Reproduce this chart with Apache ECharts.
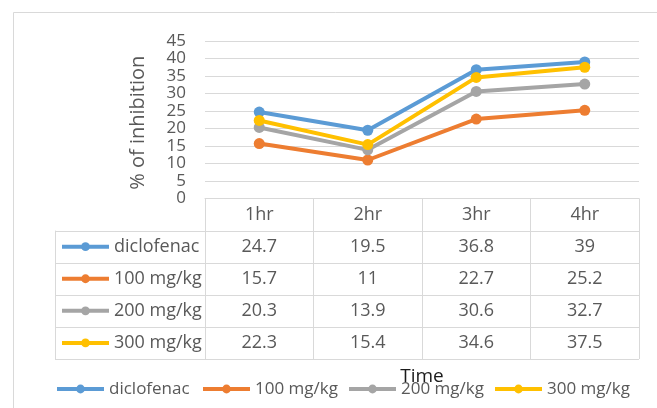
<!DOCTYPE html>
<html>
<head>
<meta charset="utf-8">
<script src="https://cdn.jsdelivr.net/npm/echarts@6/dist/echarts.min.js"></script>
<style>
  html, body { margin: 0; padding: 0; background: #fff; }
  #chart { width: 657px; height: 408px; }
</style>
</head>
<body>
<div id="chart"></div>
<script>
// Time points (x categories)
const categories = ['1hr', '2hr', '3hr', '4hr'];
// Treatment groups
const seriesNames = ['diclofenac', '100 mg/kg', '200 mg/kg', '300 mg/kg'];
// % of inhibition per group
const diclofenac = [24.7, 19.5, 36.8, 39];
const dose100 = [15.7, 11, 22.7, 25.2];
const dose200 = [20.3, 13.9, 30.6, 32.7];
const dose300 = [22.3, 15.4, 34.6, 37.5];
// Value axis range
const yMin = 0, yMax = 45, yStep = 5;

const groupValues = [diclofenac, dose100, dose200, dose300];
const colors = ['#5B9BD5', '#ED7D31', '#A5A5A5', '#FFC000'];

const FONT = '"Open Sans", Lato, sans-serif';
const TEXT = '#595959';
const RULE = '#D9D9D9';
const GRID = { left: 205, top: 41, width: 434, height: 157.5 };
const ROW_H = 32.1;
const TABLE_LEFT = 55;
const TABLE_FONT = 18;
const LEGEND_FONT = 17;
const LEGEND_LEFTS = [55, 201, 347, 493];
const LEGEND_Y = 389;

const gridBottom = GRID.top + GRID.height;
const tableRight = GRID.left + GRID.width;

const chart = echarts.init(document.getElementById('chart'), null, { renderer: 'canvas' });

const cellLabel = {
  fontFamily: FONT, fontSize: TABLE_FONT, color: TEXT, lineHeight: 20,
  margin: ROW_H / 2 - 10
};

// Main category axis (header row of the data table) plus one axis per table row
const xAxes = [{
  type: 'category',
  data: categories,
  boundaryGap: true,
  name: 'Time',
  nameLocation: 'middle',
  nameGap: 169,
  nameTextStyle: { fontFamily: FONT, fontSize: 19, color: '#1a1a1a' },
  axisLine: { show: true, lineStyle: { color: RULE, width: 1 } },
  axisTick: { show: true, alignWithLabel: false, length: ROW_H * 5, lineStyle: { color: RULE, width: 1 } },
  axisLabel: Object.assign({}, cellLabel),
  splitLine: { show: false }
}];
groupValues.forEach((vals, k) => {
  xAxes.push({
    type: 'category',
    data: categories,
    position: 'bottom',
    offset: ROW_H * (k + 1),
    axisLine: { show: false },
    axisTick: { show: false },
    splitLine: { show: false },
    axisLabel: Object.assign({}, cellLabel, {
      formatter: (v, idx) => String(vals[idx])
    })
  });
});

const legendBase = {
  selectedMode: false,
  itemWidth: 47,
  itemHeight: 11,
  itemGap: 0,
  padding: 0,
  lineStyle: { width: 4 }
};
const legends = [];
seriesNames.forEach((n, i) => {
  legends.push(Object.assign({}, legendBase, {
    data: [n],
    left: TABLE_LEFT + 5,
    top: gridBottom + ROW_H * (i + 1) + ROW_H / 2 - 10,
    textStyle: { fontFamily: FONT, fontSize: TABLE_FONT, color: TEXT, lineHeight: 20 }
  }));
});
seriesNames.forEach((n, i) => {
  legends.push(Object.assign({}, legendBase, {
    data: [n],
    left: LEGEND_LEFTS[i],
    top: LEGEND_Y - 10,
    textStyle: { fontFamily: FONT, fontSize: LEGEND_FONT, color: TEXT, lineHeight: 20 }
  }));
});

// Chart frame and data table borders
const graphics = [
  { type: 'rect', shape: { x: 13.5, y: 12.5, width: 700, height: 500 }, style: { fill: null, stroke: RULE, lineWidth: 1 }, silent: true, z: -1 }
];
for (let k = 1; k <= 5; k++) {
  const y = Math.round(gridBottom + ROW_H * k) + 0.5;
  graphics.push({ type: 'line', shape: { x1: TABLE_LEFT, y1: y, x2: tableRight, y2: y }, style: { stroke: RULE, lineWidth: 1 }, silent: true });
}
graphics.push({
  type: 'line',
  shape: { x1: TABLE_LEFT + 0.5, y1: gridBottom + ROW_H, x2: TABLE_LEFT + 0.5, y2: gridBottom + ROW_H * 5 },
  style: { stroke: RULE, lineWidth: 1 }, silent: true
});

chart.setOption({
  backgroundColor: '#fff',
  animation: false,
  textStyle: { fontFamily: FONT },
  grid: { left: GRID.left, top: GRID.top, width: GRID.width, height: GRID.height, containLabel: false },
  xAxis: xAxes,
  yAxis: {
    type: 'value',
    min: yMin, max: yMax, interval: yStep,
    name: '% of inhibition',
    nameLocation: 'middle',
    nameGap: 57,
    nameTextStyle: { fontFamily: FONT, fontSize: 20, color: TEXT, padding: [0, 6, 0, 0] },
    axisLine: { show: false },
    axisTick: { show: false },
    axisLabel: { fontFamily: FONT, fontSize: 17, color: TEXT, margin: 19 },
    splitLine: { show: true, lineStyle: { color: RULE, width: 1 } }
  },
  legend: legends,
  series: seriesNames.map((n, i) => ({
    name: n,
    type: 'line',
    data: groupValues[i],
    color: colors[i],
    symbol: 'circle',
    symbolSize: 11,
    lineStyle: { width: 4, color: colors[i] },
    itemStyle: { color: colors[i] },
    z: 2 + i
  })),
  graphic: graphics
});
</script>
</body>
</html>
